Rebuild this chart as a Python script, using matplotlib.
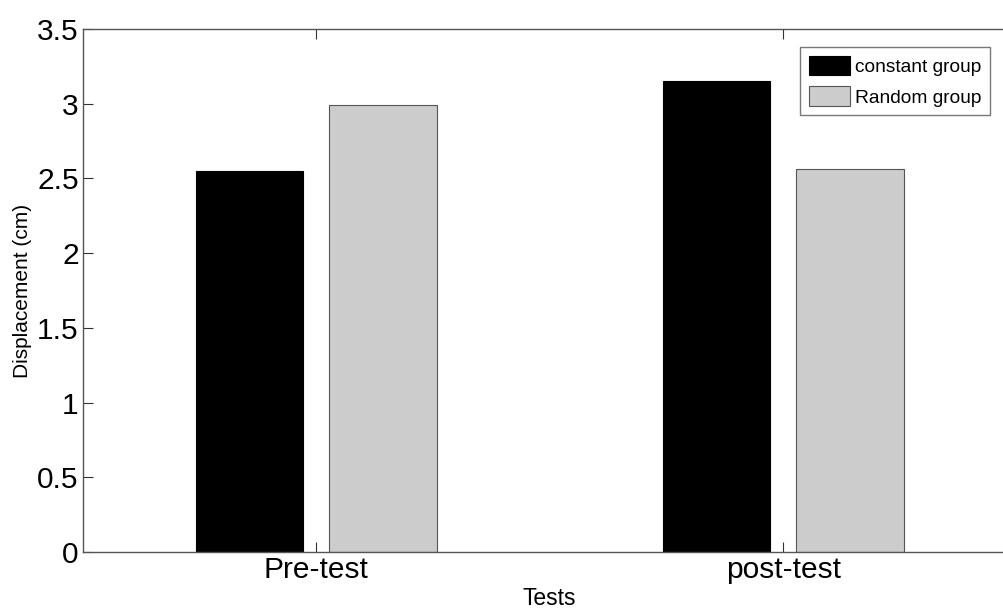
import matplotlib
matplotlib.use("Agg")
import matplotlib.pyplot as plt
import numpy as np

categories = ["Pre-test", "post-test"]
series_names = ["constant group", "Random group"]
constant_vals = [2.55, 3.15]
random_vals = [2.99, 2.56]
yticks = [0, 0.5, 1, 1.5, 2, 2.5, 3, 3.5]
ytick_labels = ["0", "0.5", "1", "1.5", "2", "2.5", "3", "3.5"]

plt.rcParams['font.family'] = ['Liberation Sans', 'DejaVu Sans']

fig = plt.figure(figsize=(10.04, 6.08), dpi=100)
W, H = 1004, 608
left, right, top, bottom = 83, 1016.5, 29, 552
ax = fig.add_axes([left / W, 1 - bottom / H, (right - left) / W, (bottom - top) / H])

x = np.arange(1, len(categories) + 1)
w = 0.23
off = 0.143
ax.bar(x - off, constant_vals, w, color="black", edgecolor="black", linewidth=0.8, label=series_names[0])
ax.bar(x + off, random_vals, w, color="#cccccc", edgecolor="#555555", linewidth=0.8, label=series_names[1])

ax.set_xlim(0.5, 2.5)
ax.set_ylim(0, 3.5)
ax.set_xticks(x)
ax.set_xticklabels(categories, fontsize=21.5)
ax.set_yticks(yticks)
ax.set_yticklabels(ytick_labels, fontsize=21.5)
ax.tick_params(direction="in", length=7, width=0.8, color="#333333", top=True, right=True, pad=3)
for s in ax.spines.values():
    s.set_color("#555555")
    s.set_linewidth(1.0)

ax.set_xlabel("Tests", fontsize=16.5, labelpad=2)
ax.set_ylabel("Displacement (cm)", fontsize=15, labelpad=4)

leg = ax.legend(loc="upper left", bbox_to_anchor=((800 - left) / (right - left), 1 - (47 - top) / (bottom - top)),
                fontsize=13.8, frameon=True, fancybox=False, borderaxespad=0,
                handlelength=2.15, handleheight=1.2, handletextpad=0.25, borderpad=0.45, labelspacing=0.55)
leg.get_frame().set_edgecolor("#555555")
leg.get_frame().set_linewidth(1.0)

fig.savefig("out.png", dpi=100)
